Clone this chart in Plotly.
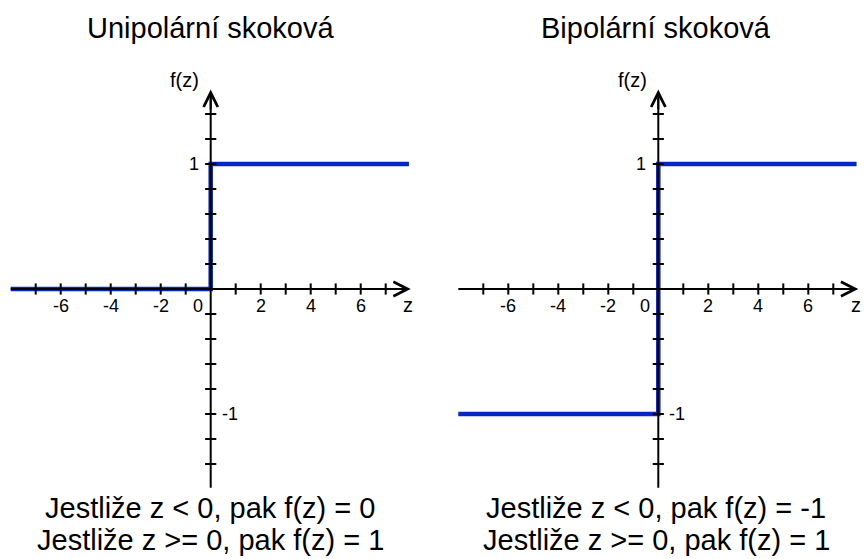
import plotly.graph_objects as go

# ---- data ----
titles = ["Unipolární skoková", "Bipolární skoková"]
step_x = [-8, 0, 0, 7.93]
unipolar_y = [0, 0, 1, 1]
bipolar_y = [-1, -1, 1, 1]
x_ticks = [-7, -6, -5, -4, -3, -2, -1, 1, 2, 3, 4, 5, 6, 7]
x_tick_labels = [-6, -4, -2, 2, 4, 6]
y_ticks = [-1.4, -1.2, -1.0, -0.8, -0.6, -0.4, -0.2, 0.2, 0.4, 0.6, 0.8, 1.0, 1.2, 1.4]
y_tick_labels = [1, -1]
axis_x = [-8, 7.9]
axis_y = [-1.59, 1.575]
rules = [
    ["Jestliže z < 0, pak f(z) = 0", "Jestliže z >= 0, pak f(z) = 1"],
    ["Jestliže z < 0, pak f(z) = -1", "Jestliže z >= 0, pak f(z) = 1"],
]

W, H = 864, 559
BLUE = "#0526c2"
FONT = "Liberation Sans, Arial, sans-serif"

# panel geometry (pixels)
origins_px = [210.7, 658.3]
domains_px = [(0, 432), (432, 864)]
x0_py = 289  # y position of x axis from top
ppx, ppy = 25.0, 125.0

fig = go.Figure()
layout_axes = {}
for i, ys in enumerate([unipolar_y, bipolar_y]):
    sfx = "" if i == 0 else str(i + 1)
    xa, ya = "x" + sfx, "y" + sfx
    d0, d1 = domains_px[i]
    o = origins_px[i]
    layout_axes["xaxis" + sfx] = dict(
        domain=[d0 / W, d1 / W], range=[(d0 - o) / ppx, (d1 - o) / ppx],
        visible=False, fixedrange=True, anchor=ya)
    layout_axes["yaxis" + sfx] = dict(
        domain=[0, 1], range=[-(H - x0_py) / ppy, x0_py / ppy],
        visible=False, fixedrange=True, anchor=xa)

    # step function
    fig.add_trace(go.Scatter(x=step_x, y=ys, mode="lines", xaxis=xa, yaxis=ya,
                             line=dict(color=BLUE, width=4.5), hoverinfo="skip",
                             showlegend=False))
    # axes lines
    fig.add_trace(go.Scatter(x=axis_x, y=[0, 0], mode="lines", xaxis=xa, yaxis=ya,
                             line=dict(color="black", width=2), hoverinfo="skip",
                             showlegend=False))
    fig.add_trace(go.Scatter(x=[0, 0], y=axis_y, mode="lines", xaxis=xa, yaxis=ya,
                             line=dict(color="black", width=2), hoverinfo="skip",
                             showlegend=False))
    # tick marks
    fig.add_trace(go.Scatter(x=x_ticks, y=[0] * len(x_ticks), mode="markers",
                             xaxis=xa, yaxis=ya, hoverinfo="skip", showlegend=False,
                             marker=dict(symbol="line-ns", size=8,
                                         line=dict(color="black", width=2))))
    fig.add_trace(go.Scatter(x=[0] * len(y_ticks), y=y_ticks, mode="markers",
                             xaxis=xa, yaxis=ya, hoverinfo="skip", showlegend=False,
                             marker=dict(symbol="line-ew", size=8,
                                         line=dict(color="black", width=2))))
    # arrowheads
    fig.add_annotation(x=axis_x[1] + 0.1, y=0, ax=axis_x[1] - 0.6, ay=0,
                       xref=xa, yref=ya, axref=xa, ayref=ya, text="",
                       showarrow=True, arrowhead=5, arrowsize=1.4, arrowwidth=2,
                       arrowcolor="black")
    fig.add_annotation(x=0, y=axis_y[1] + 0.02, ax=0, ay=axis_y[1] - 0.15,
                       xref=xa, yref=ya, axref=xa, ayref=ya, text="",
                       showarrow=True, arrowhead=5, arrowsize=1.4, arrowwidth=2,
                       arrowcolor="black")
    # tick labels
    small = dict(family=FONT, size=18, color="black")
    for v in x_tick_labels:
        fig.add_annotation(x=v, y=0, xref=xa, yref=ya, text=str(v), showarrow=False,
                           xanchor="center", yanchor="middle",
                           yshift=-17, font=small)
    fig.add_annotation(x=0, y=0, xref=xa, yref=ya, text="0", showarrow=False,
                       xanchor="center", yanchor="middle",
                       xshift=-13, yshift=-17, font=small)
    fig.add_annotation(x=0, y=y_tick_labels[0], xref=xa, yref=ya,
                       text=str(y_tick_labels[0]), showarrow=False,
                       xanchor="center", yanchor="middle",
                       xshift=-17, font=small)
    fig.add_annotation(x=0, y=y_tick_labels[1], xref=xa, yref=ya,
                       text=str(y_tick_labels[1]), showarrow=False,
                       xanchor="center", yanchor="middle",
                       xshift=19, font=small)
    fig.add_annotation(x=axis_x[1], y=0, xref=xa, yref=ya, text="z", showarrow=False,
                       xanchor="center", yanchor="middle",
                       yshift=-16, font=dict(family=FONT, size=20, color="black"))
    fig.add_annotation(x=0, y=axis_y[1], xref=xa, yref=ya, text="f(z)",
                       showarrow=False, xanchor="center", yanchor="middle",
                       xshift=-26, yshift=12,
                       font=dict(family=FONT, size=20, color="black"))

    # title and rule text
    big = dict(family=FONT, size=29, color="black")
    cx = [210 / W, 656 / W][i]
    for text, py in [(titles[i], 28), (rules[i][0], 508), (rules[i][1], 540)]:
        fig.add_annotation(x=cx, y=1 - py / H, xref="paper", yref="paper", text=text,
                           xanchor="center", yanchor="middle",
                           showarrow=False, font=big)

fig.update_layout(width=W, height=H, margin=dict(l=0, r=0, t=0, b=0),
                  paper_bgcolor="white", plot_bgcolor="white", showlegend=False,
                  **layout_axes)
fig.write_html("out.html", config={"displayModeBar": False},
               post_script="document.body.style.margin='0';document.body.style.overflow='hidden';")
